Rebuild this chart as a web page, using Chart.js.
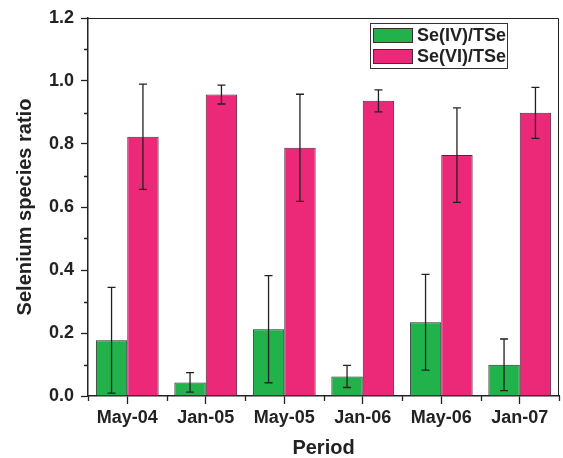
<!DOCTYPE html>
<html>
<head>
<meta charset="utf-8">
<script src="https://cdn.jsdelivr.net/npm/chart.js@4/dist/chart.umd.min.js"></script>
<style>
  html, body { margin: 0; padding: 0; background: #fff; }
  canvas { display: block; }
</style>
</head>
<body>
<canvas id="myChart" width="563" height="458"></canvas>
<script>
const periods = ['May-04', 'Jan-05', 'May-05', 'Jan-06', 'May-06', 'Jan-07'];
const se4 = [0.177, 0.043, 0.212, 0.062, 0.234, 0.099];
const se4Err = [0.168, 0.031, 0.170, 0.035, 0.152, 0.082];
const se6 = [0.823, 0.957, 0.788, 0.937, 0.765, 0.899];
const se6Err = [0.167, 0.030, 0.170, 0.035, 0.150, 0.081];
const yTicks = [0, 0.2, 0.4, 0.6, 0.8, 1.0, 1.2];

const FONT = 'Arial, "Liberation Sans", sans-serif';
const AXIS = '#222';

// error bars, drawn from the bar elements and the y scale
const errorBars = {
    id: 'errorBars',
    afterDatasetsDraw(chart) {
        const ctx = chart.ctx;
        const y = chart.scales.y;
        const errs = [se4Err, se6Err];
        ctx.save();
        ctx.strokeStyle = '#222';
        ctx.lineWidth = 1.3;
        chart.data.datasets.forEach((ds, di) => {
            chart.getDatasetMeta(di).data.forEach((bar, i) => {
                const v = ds.data[i];
                const top = y.getPixelForValue(v + errs[di][i]);
                const bot = y.getPixelForValue(v - errs[di][i]);
                ctx.beginPath();
                ctx.moveTo(bar.x, top); ctx.lineTo(bar.x, bot);
                ctx.moveTo(bar.x - 4, top); ctx.lineTo(bar.x + 4, top);
                ctx.moveTo(bar.x - 4, bot); ctx.lineTo(bar.x + 4, bot);
                ctx.stroke();
            });
        });
        ctx.restore();
    }
};

// top/right frame, minor ticks and the boxed legend
const frame = {
    id: 'frame',
    afterDraw(chart) {
        const ctx = chart.ctx;
        const a = chart.chartArea;
        const y = chart.scales.y;
        const x = chart.scales.x;
        ctx.save();
        ctx.strokeStyle = AXIS;
        ctx.lineWidth = 1;
        ctx.beginPath();
        ctx.moveTo(a.left, a.top + 0.5); ctx.lineTo(a.right - 0.5, a.top + 0.5);
        ctx.lineTo(a.right - 0.5, a.bottom);
        ctx.stroke();

        ctx.lineWidth = 1.3;
        ctx.beginPath();
        for (let k = 1; k < 12; k += 2) {
            const py = Math.round(y.getPixelForValue(k / 10)) + 0.5;
            ctx.moveTo(a.left - 4, py); ctx.lineTo(a.left, py);
        }
        const w = (a.right - a.left) / periods.length;
        for (let i = 0; i <= periods.length; i++) {
            const px = Math.round(a.left + i * w) + 0.5;
            ctx.moveTo(px, a.bottom); ctx.lineTo(px, a.bottom + 5);
        }
        ctx.stroke();

        // legend
        const lx = 370, ly = 23, lw = 137, lh = 45;
        ctx.fillStyle = '#fff';
        ctx.fillRect(lx, ly, lw, lh);
        ctx.strokeStyle = '#333';
        ctx.lineWidth = 1;
        ctx.strokeRect(lx + 0.5, ly + 0.5, lw, lh);
        ctx.font = 'bold 18px ' + FONT;
        ctx.textBaseline = 'middle';
        chart.data.datasets.forEach((ds, i) => {
            const sy = ly + 5 + i * 21;
            ctx.fillStyle = ds.backgroundColor;
            ctx.fillRect(lx + 3, sy, 40, 15);
            ctx.strokeStyle = '#333';
            ctx.strokeRect(lx + 3.5, sy + 0.5, 39, 14);
            ctx.fillStyle = '#222';
            ctx.fillText(ds.label, lx + 47, sy + 8);
        });
        ctx.restore();
    }
};

new Chart(document.getElementById('myChart'), {
    type: 'bar',
    data: {
        labels: periods,
        datasets: [
            {
                label: 'Se(IV)/TSe',
                data: se4,
                backgroundColor: '#22b24c',
                borderColor: '#2a2a2a',
                borderWidth: 1,
                categoryPercentage: 0.8,
                barPercentage: 1.0,
            },
            {
                label: 'Se(VI)/TSe',
                data: se6,
                backgroundColor: '#ec2878',
                borderColor: '#5a2038',
                borderWidth: 1,
                categoryPercentage: 0.8,
                barPercentage: 1.0,
            }
        ]
    },
    options: {
        responsive: false,
        animation: false,
        layout: { padding: { top: 18, right: 4, left: 0, bottom: 0 } },
        plugins: {
            legend: { display: false },
            tooltip: { enabled: false },
        },
        scales: {
            x: {
                grid: { offset: false, drawOnChartArea: false, tickLength: 8, color: AXIS, tickWidth: 1.3 },
                border: { display: true, color: AXIS, width: 1.5 },
                ticks: { color: '#222', padding: 3, maxRotation: 0, font: { family: FONT, size: 18, weight: 'bold' } },
                title: { display: true, text: 'Period', color: '#222', padding: 0, font: { family: FONT, size: 20, weight: 'bold', lineHeight: 1 } },
                afterFit(scale) { scale.height = 62; },
            },
            y: {
                min: 0,
                max: 1.2,
                afterBuildTicks(scale) { scale.ticks = yTicks.map(v => ({ value: v })); },
                grid: { drawOnChartArea: false, tickLength: 7, color: AXIS, tickWidth: 1.3 },
                border: { display: true, color: AXIS, width: 1.5 },
                ticks: {
                    color: '#222',
                    padding: 7,
                    font: { family: FONT, size: 18, weight: 'bold' },
                    callback: v => Number(v).toFixed(1),
                },
                title: { display: true, text: 'Selenium species ratio', color: '#222', padding: { top: 15, bottom: 0 }, font: { family: FONT, size: 20, weight: 'bold', lineHeight: 1 } },
                afterFit(scale) { scale.width = 88; },
            }
        }
    },
    plugins: [errorBars, frame]
});
</script>
</body>
</html>
